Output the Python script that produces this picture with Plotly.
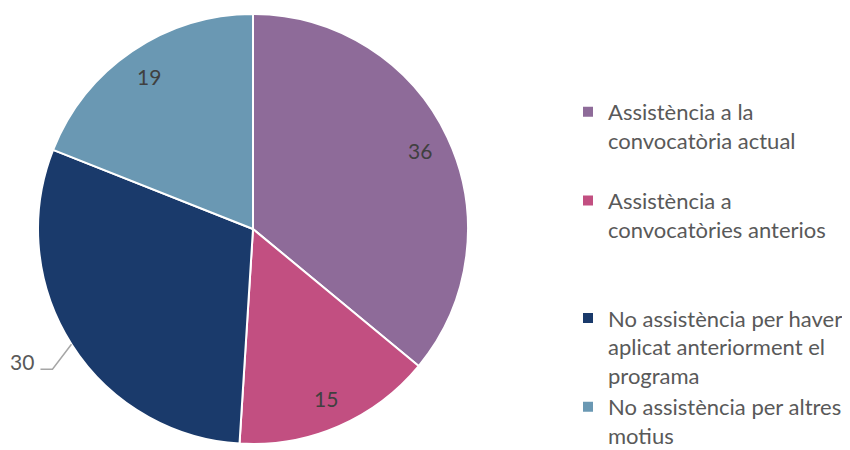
import math
import plotly.graph_objects as go

labels = [
    "Assistència a la convocatòria actual",
    "Assistència a convocatòries anteriors",
    "No assistència per haver aplicat anteriorment el programa",
    "No assistència per altres motius",
]
legend_text = [
    "Assistència a la<br>convocatòria actual<br> ",
    "Assistència a<br>convocatòries anterios<br> <br> ",
    "No assistència per haver<br>aplicat anteriorment el<br>programa",
    "No assistència per altres<br>motius",
]
values = [36, 15, 30, 19]
colors = ["#8E6B99", "#C24F81", "#1A3A6B", "#6A98B3"]
outside = [False, False, True, False]

W, H = 850, 450
OFF = 8                      # page body margin of the html page
CX, CY, R = 253 - OFF, 229 - OFF, 215   # pie centre / radius (figure px)

fig = go.Figure()
fig.add_trace(go.Pie(
    labels=legend_text,
    values=values,
    sort=False,
    direction="clockwise",
    rotation=0,
    marker=dict(colors=colors, line=dict(color="white", width=2)),
    textinfo="none",
    hoverinfo="label+value",
    domain=dict(x=[(CX - R) / W, (CX + R) / W], y=[1 - (CY + R) / H, 1 - (CY - R) / H]),
))

total = sum(values)
annotations = []
shapes = []
cum = 0
for v, out in zip(values, outside):
    mid = (cum + v / 2) / total * 2 * math.pi
    cum += v
    sx, sy = math.sin(mid), -math.cos(mid)
    if not out:
        px = CX + 0.86 * R * sx
        py = CY + 0.86 * R * sy
        annotations.append(dict(x=px / W, y=1 - py / H, xref="paper", yref="paper",
                                xanchor="center", yanchor="middle",
                                text=str(v), showarrow=False,
                                font=dict(size=21, color="#404040")))
    else:
        ex, ey = CX + R * sx, CY + R * sy
        kx, ky = ex - 19, ey + 25
        lx = kx - 12
        shapes.append(dict(type="path", xref="paper", yref="paper",
                           path=f"M{ex/W},{1-ey/H} L{kx/W},{1-ky/H} L{lx/W},{1-ky/H}",
                           line=dict(color="#A6A6A6", width=1.5)))
        annotations.append(dict(x=(lx - 4) / W, y=1 - (ky - 8) / H, xref="paper", yref="paper",
                                text=str(v), showarrow=False, xanchor="right", yanchor="middle",
                                font=dict(size=21, color="#595959")))

fig.update_layout(
    width=W, height=H,
    margin=dict(l=0, r=0, t=0, b=0),
    paper_bgcolor="white",
    font=dict(family="Lato, Liberation Sans, sans-serif", color="#595959"),
    showlegend=True,
    legend=dict(x=(608 - OFF - 40) / W, y=1 - (91 - OFF) / H, xanchor="left", yanchor="top",
                font=dict(size=22, color="#595959"), valign="top",
                bgcolor="rgba(0,0,0,0)"),
    annotations=annotations,
    shapes=shapes,
)

fig.write_html("out.html")
